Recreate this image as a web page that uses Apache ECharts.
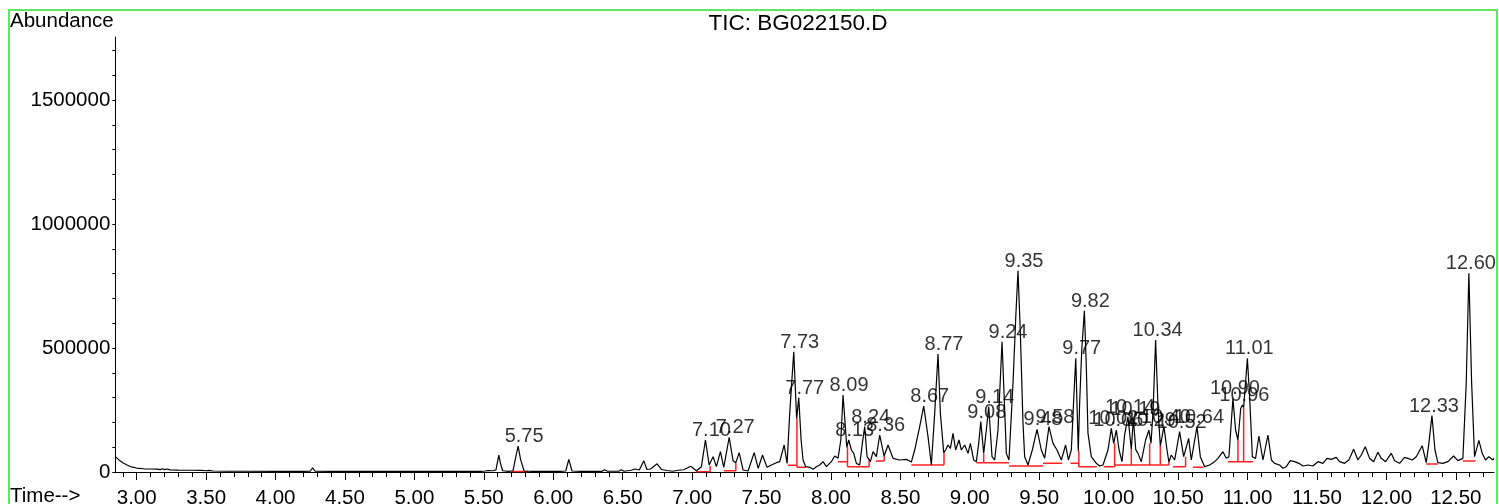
<!DOCTYPE html>
<html><head><meta charset="utf-8">
<script src="https://cdn.jsdelivr.net/npm/echarts@6/dist/echarts.min.js"></script>
<style>html,body{margin:0;padding:0;background:#fff}#c{width:1499px;height:504px}</style>
</head><body><div id="c"></div>
<script>
// ---- chromatogram trace (retention time min, abundance) ----
const traceEarly = [[2.846,62000],[2.86,55000],[2.88,45000],[2.90,37000],[2.93,28000],[2.96,21000],[3.00,16000],[3.05,13000],[3.10,12000],[3.15,11500],[3.17,9500],[3.185,13000],[3.20,9500],[3.22,12000],[3.24,8500],[3.30,7500],[3.40,7000],[3.47,6500],[3.50,5000],[3.52,6500],[3.55,4000],[3.65,3000],[3.80,3000],[4.00,2500],[4.20,2500],[4.25,3000],[4.267,17000],[4.285,3000],[4.40,2500],[4.70,2500],[5.00,2500],[5.30,2500],[5.48,2800]];
const traceB = [[5.51,4000],[5.53,5500],[5.565,5000],[5.587,8000],[5.60,45000],[5.608,68000],[5.62,35000],[5.635,5000],[5.68,2500],[5.71,5000],[5.73,60000],[5.747,104000],[5.765,50000],[5.79,4000],[5.85,2500],[6.05,2500],[6.09,4000],[6.112,51000],[6.135,4000],[6.20,2500],[6.35,2500],[6.37,9000],[6.39,3000],[6.47,3000],[6.49,9000],[6.51,3000],[6.56,7000],[6.59,12000],[6.62,8000],[6.652,45000],[6.675,10000],[6.70,12000],[6.748,33000],[6.78,10000],[6.82,6000],[6.86,3000],[6.90,7000],[6.94,9000],[6.99,23000],[7.031,5300]];
const traceC = [[7.067,21500],[7.096,129000],[7.123,28000],[7.151,61800],[7.175,21500],[7.204,82000],[7.228,18800],[7.267,139700],[7.295,45600],[7.315,37600],[7.339,78000],[7.367,8000],[7.403,4000],[7.447,78000],[7.476,14700],[7.507,68500],[7.540,18800],[7.571,28200],[7.607,37600],[7.631,41600],[7.663,108800],[7.684,34900],[7.703,236500],[7.732,485000],[7.753,215000],[7.768,299700],[7.785,129000],[7.799,48300],[7.818,21500],[7.847,18800],[7.871,10700],[7.895,21500],[7.919,28200],[7.943,41600],[7.967,21500],[8.003,41600],[8.027,64500],[8.051,55100],[8.071,129000],[8.087,310400],[8.114,100000],[8.128,129000],[8.147,88700],[8.164,75200],[8.183,34900],[8.207,28200],[8.226,115500],[8.243,182700],[8.260,61800],[8.275,50000],[8.284,41600],[8.303,82000],[8.327,61800],[8.351,149100],[8.383,64500],[8.411,108800],[8.447,55100],[8.495,48300],[8.543,51000],[8.579,40000]];
const traceD = [[8.603,88700],[8.639,182700],[8.668,266100],[8.699,142400],[8.723,28200],[8.747,236500],[8.771,475700],[8.788,236500],[8.812,78000],[8.826,88700],[8.843,108800],[8.860,95400],[8.879,155900],[8.898,88700],[8.922,129000],[8.939,88700],[8.963,108800],[8.987,75200],[9.004,115500],[9.028,48300],[9.047,41600],[9.064,115500],[9.079,202900],[9.100,75200],[9.119,169300],[9.136,263400],[9.160,61800],[9.179,48300],[9.203,169300],[9.232,525500],[9.263,75200],[9.282,48300]];
const traceE = [[9.311,357500],[9.331,626300],[9.347,811800],[9.364,559100],[9.383,196200],[9.395,61800],[9.419,28200],[9.450,88700],[9.484,172000],[9.515,88700],[9.539,55100],[9.570,182800],[9.599,115600],[9.628,88700],[9.659,48400],[9.690,108900],[9.710,48400],[9.731,88700],[9.748,290300],[9.763,458300],[9.781,85000],[9.791,276900],[9.806,491900],[9.825,650500],[9.839,424700],[9.851,155900],[9.875,61800],[9.911,35000],[9.935,24200],[9.959,28200],[9.995,88700],[10.019,176100],[10.036,115600],[10.055,169300],[10.075,88700],[10.096,41700]];
const traceF = [[10.115,150000],[10.139,223000],[10.163,91500],[10.178,215000],[10.195,90000],[10.211,75200],[10.235,41600],[10.266,129000],[10.290,169300],[10.305,115700],[10.320,250000],[10.338,532000],[10.356,250000],[10.372,105000],[10.398,182700],[10.420,88700],[10.434,40000],[10.451,68500],[10.475,48300],[10.511,162600],[10.540,61800],[10.576,135700],[10.595,48300],[10.636,182700],[10.660,61800],[10.691,21400],[10.727,28200],[10.763,41600],[10.787,55100],[10.823,82000],[10.847,55100],[10.866,61800],[10.895,297000],[10.914,169300],[10.931,129000],[10.951,256000],[10.963,270000],[10.972,260000],[10.999,458000],[11.015,303700],[11.035,61800]];
const traceG = [[11.058,55000],[11.082,145100],[11.111,48400],[11.147,149200],[11.172,48400],[11.195,35000],[11.231,28200],[11.255,14800],[11.279,21500],[11.308,45700],[11.339,41600],[11.370,35000],[11.399,24200],[11.435,28200],[11.471,24200],[11.507,41600],[11.543,35000],[11.572,55100],[11.603,51000],[11.639,59100],[11.663,41600],[11.699,35000],[11.730,48400],[11.764,91400],[11.795,48400],[11.819,68500],[11.848,102100],[11.879,55100],[11.908,41600],[11.939,79300],[11.963,55100],[11.994,41600],[12.035,75200],[12.059,45700],[12.095,35000],[12.131,59100],[12.155,55100],[12.186,48400],[12.215,61800],[12.258,106100],[12.287,37600],[12.306,115600],[12.328,227100],[12.350,88700],[12.371,37600],[12.407,35000],[12.443,41600],[12.484,64500],[12.515,45700],[12.551,55100],[12.575,357500],[12.594,801000],[12.614,357500],[12.635,61800],[12.666,127700],[12.690,75200],[12.714,48400],[12.738,61800],[12.767,48400],[12.775,55000]];

// ---- integrated peaks: labels, retention times, apex abundance ----
const peakLabels = ['5.75','7.10','7.27','7.73','7.77','8.09','8.13','8.24','8.36','8.67','8.77','9.08','9.14','9.24','9.35','9.48','9.58','9.77','9.82','10.02','10.06','10.14','10.19','10.29','10.34','10.40','10.52','10.64','10.90','10.96','11.01','12.33','12.60'];
const peakRT = [5.747,7.096,7.267,7.732,7.768,8.087,8.128,8.243,8.351,8.668,8.771,9.079,9.136,9.232,9.347,9.484,9.570,9.763,9.825,10.019,10.055,10.139,10.178,10.290,10.338,10.398,10.511,10.636,10.895,10.963,10.999,12.328,12.594];
const peakApex = [104000,129000,139700,485000,299700,310400,129000,182700,149100,266100,475700,202900,263400,525500,811800,172000,182800,458300,650500,176100,169300,223000,215000,169300,532000,182700,162600,182700,297000,270000,458000,227100,801000];

// ---- integration baselines [tStart, vStart, tEnd, vEnd] and drop lines [t, vLow, vHigh] ----
const baselineSegs = [[5.70,2000,5.82,2000],[7.03,1500,7.13,1500],[7.23,5000,7.315,5000],[7.69,27000,7.755,27000],[7.755,19000,7.82,19000],[8.051,41500,8.119,41500],[8.119,21000,8.275,21000],[8.323,44000,8.383,44000],[8.579,28000,8.814,28000],[9.047,37500,9.282,37500],[9.282,24000,9.527,24000],[9.527,35000,9.665,35000],[9.725,35000,9.785,35000],[9.785,21000,9.915,21000],[9.964,21000,10.043,21000],[10.043,28000,10.434,28000],[10.463,21000,10.554,21000],[10.606,19000,10.682,19000],[10.859,41500,11.039,41500],[12.287,32000,12.371,32000],[12.551,44000,12.642,44000]];
const dropLines = [[7.13,1500,24000],[7.315,5000,37600],[7.755,19000,215000],[8.119,21000,102000],[8.275,21000,51000],[8.383,44000,64500],[8.814,28000,78000],[9.100,37500,72500],[9.785,21000,85000],[10.043,21000,115700],[10.163,28000,91500],[10.295,28000,115700],[10.372,28000,105000],[10.434,28000,40000],[10.554,21000,61800],[10.931,41500,129000],[10.972,41500,260000]];

// ---- axis ticks ----
const xMajorTicks = [3.00,3.50,4.00,4.50,5.00,5.50,6.00,6.50,7.00,7.50,8.00,8.50,9.00,9.50,10.00,10.50,11.00,11.50,12.00,12.50];
const yLabelTicks = [0,500000,1000000,1500000];
const X_MIN = 2.846, X_MAX = 12.775, Y_MAX = 1754000;

const xMinorTicks = [];
for (let i = 29; i <= 127; i++) xMinorTicks.push(i / 10);
const yTicks = [];
for (let i = 0; i <= 17; i++) yTicks.push(i * 100000);

const FONT = '"Liberation Sans", Arial, sans-serif';
const trace = [].concat(traceEarly, traceB, traceC, traceD, traceE, traceF, traceG);

const redSeries = [];
baselineSegs.forEach(s => redSeries.push([[s[0], s[1]], [s[2], s[3]]]));
dropLines.forEach(d => redSeries.push([[d[0], d[1]], [d[0], d[2]]]));

const shortLabels = [], longLabels = [];
peakLabels.forEach((txt, i) => {
  const item = { value: [peakRT[i], peakApex[i]], name: txt };
  (txt.length > 4 ? longLabels : shortLabels).push(item);
});
const labelSeries = (data, dx) => ({
  type: 'scatter', data: data, symbolSize: 1, itemStyle: { color: 'rgba(0,0,0,0)' }, silent: true, z: 4,
  labelLayout: { hideOverlap: false, dx: dx, dy: 1 },
  label: { show: true, position: 'top', distance: 0, formatter: p => p.name, color: '#000', fontSize: 20, fontFamily: FONT }
});

const chart = echarts.init(document.getElementById('c'), null, { renderer: 'canvas' });
chart.setOption({
  animation: false,
  backgroundColor: '#fff',
  grid: { left: 115.3, right: 5, top: 37, bottom: 32, containLabel: false, outerBoundsMode: 'none' },
  xAxis: [{
    type: 'value', min: X_MIN, max: X_MAX, position: 'bottom',
    axisLine: { show: true, lineStyle: { color: '#000', width: 1 } },
    axisTick: { show: true, customValues: xMajorTicks, length: 8, lineStyle: { color: '#000', width: 1 } },
    axisLabel: { show: true, customValues: xMajorTicks, formatter: v => v.toFixed(2), color: '#000', fontSize: 20.5, fontFamily: FONT, margin: 16 },
    splitLine: { show: false }
  }, {
    type: 'value', min: X_MIN, max: X_MAX, position: 'bottom', gridIndex: 0,
    axisLine: { show: false },
    axisTick: { show: true, customValues: xMinorTicks, length: 5, lineStyle: { color: '#000', width: 1 } },
    axisLabel: { show: false },
    splitLine: { show: false }
  }],
  yAxis: {
    type: 'value', min: 0, max: Y_MAX,
    axisLine: { show: true, lineStyle: { color: '#000', width: 1 } },
    axisTick: { show: true, customValues: yTicks, length: 3, lineStyle: { color: '#000', width: 1 } },
    axisLabel: { show: true, customValues: yLabelTicks, formatter: v => String(v), color: '#000', fontSize: 20.5, fontFamily: FONT, margin: 5, padding: [5, 0, 0, 0] },
    splitLine: { show: false }
  },
  graphic: [
    { type: 'rect', silent: true, shape: { x: 9, y: 10, width: 1488, height: 520 }, style: { fill: 'none', stroke: '#5ee85e', lineWidth: 2 } },
    { type: 'text', silent: true, left: 10, top: 11, style: { text: 'Abundance', font: '20.5px ' + FONT, fill: '#000' } },
    { type: 'text', silent: true, x: 798, y: 12, style: { text: 'TIC: BG022150.D', font: '22.5px ' + FONT, fill: '#000', textAlign: 'center' } },
    { type: 'text', silent: true, left: 10, top: 486, style: { text: 'Time-->', font: '20.5px ' + FONT, fill: '#000' } }
  ],
  series: [
    ...redSeries.map(d => ({
      type: 'line', data: d, symbol: 'none', silent: true, z: 2,
      lineStyle: { color: '#ff2020', width: 1.5 }
    })),
    {
      type: 'line', data: trace, symbol: 'none', silent: true, z: 3,
      lineStyle: { color: '#000', width: 1.2 }
    },
    labelSeries(shortLabels, 6),
    labelSeries(longLabels, 2)
  ]
});
</script>
</body></html>
